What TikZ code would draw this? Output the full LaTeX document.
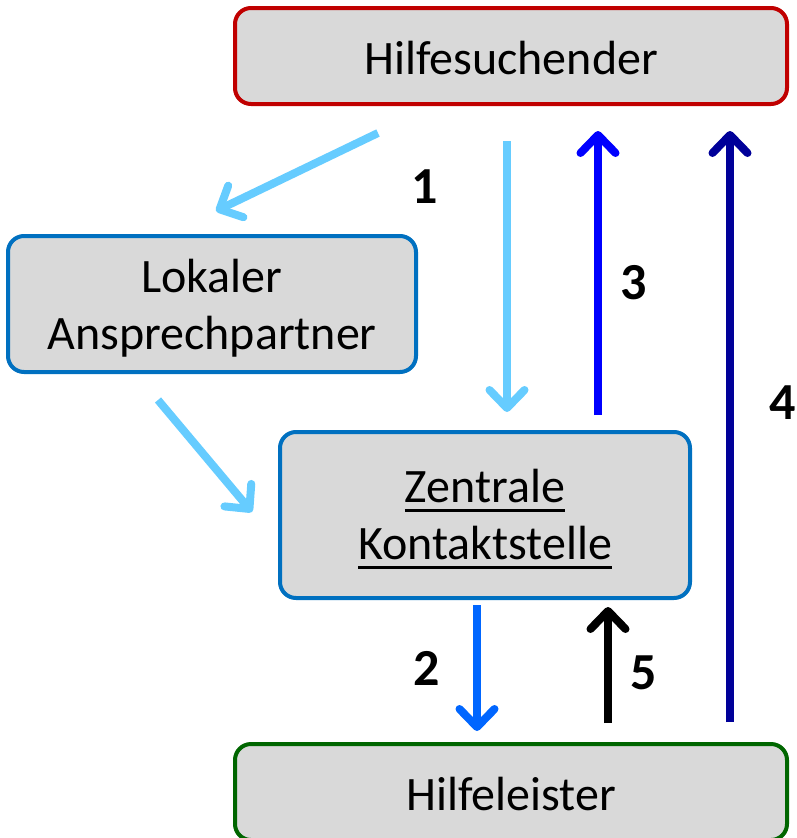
\documentclass[tikz,border=0pt]{standalone}
\usepackage{fontspec}
\setmainfont{Carlito}
\newcommand{\myul}[1]{\setbox0=\hbox{#1}\rlap{\vrule width \wd0 height -6.5pt depth 9.1pt}\box0}
\usetikzlibrary{arrows.meta}
\definecolor{boxfill}{HTML}{D9D9D9}
\definecolor{redline}{HTML}{C00000}
\definecolor{blueline}{HTML}{0070C0}
\definecolor{greenline}{HTML}{006600}
\definecolor{lightarrow}{HTML}{66CCFF}
\definecolor{midarrow}{HTML}{0066FF}
\definecolor{purearrow}{HTML}{0000FF}
\definecolor{darkarrow}{HTML}{000099}
\tikzset{
  box/.style={draw, line width=4pt, fill=boxfill, rounded corners=16pt, inner sep=0pt},
  boxtext/.style={align=center, font=\fontsize{48}{57}\selectfont, inner sep=0pt, yshift=-4pt},
  flow/.style={line width=8pt, -{Straight Barb[round, length=18pt, width=35pt]}},
  num/.style={font=\fontsize{52}{56}\selectfont\bfseries, inner sep=0pt}
}
\begin{document}
\begin{tikzpicture}[x=1pt, y=-1pt]
\useasboundingbox (0,0) rectangle (796,838);
\node[box, draw=redline, minimum width=552pt, minimum height=96pt,
  label={[boxtext, yshift=2pt]center:Hilfesuchender}] (hs) at (511,56) {};
\node[box, draw=blueline, minimum width=408pt, minimum height=136pt,
  label={[boxtext]center:Lokaler\\Ansprechpartner}] (la) at (212,304) {};
\node[box, draw=blueline, minimum width=410pt, minimum height=166pt,
  label={[boxtext]center:\myul{Zentrale}\\\myul{Kontaktstelle}}] (zk) at (485,515) {};
\node[box, draw=greenline, minimum width=552pt, minimum height=96pt,
  label={[boxtext, yshift=2pt]center:Hilfeleister}] (hl) at (511,792) {};

\coordinate (a1s) at (378,133);
\coordinate (a1e) at (216,211);
\coordinate (a2s) at (507,141);
\coordinate (a2e) at (507,412);
\coordinate (a3s) at (598,415);
\coordinate (a3e) at (598,131);
\coordinate (a4s) at (730,722);
\coordinate (a4e) at (730,131);
\coordinate (a5s) at (158,400);
\coordinate (a5e) at (252,512);
\coordinate (a6s) at (477,605);
\coordinate (a6e) at (477,731);
\coordinate (a7s) at (608,723);
\coordinate (a7e) at (608,607);

\draw[flow, lightarrow] (a1s) -- (a1e);
\draw[flow, lightarrow] (a2s) -- (a2e);
\draw[flow, purearrow] (a3s) -- (a3e);
\draw[flow, darkarrow] (a4s) -- (a4e);
\draw[flow, lightarrow] (a5s) -- (a5e);
\draw[flow, midarrow] (a6s) -- (a6e);
\draw[flow, black] (a7s) -- (a7e);

\node[num] (n1) at (425,187) {1};
\node[num] (n3) at (634,283) {3};
\node[num] (n4) at (783,403) {4};
\node[num] (n2) at (427,668) {2};
\node[num] (n5) at (644,673) {5};
\end{tikzpicture}
\end{document}
